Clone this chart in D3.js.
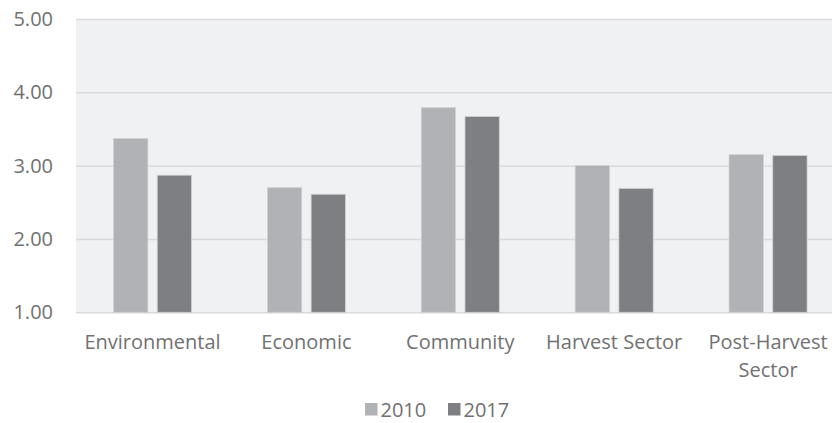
<!DOCTYPE html>
<html><head><meta charset="utf-8">
<script src="https://cdn.jsdelivr.net/npm/d3@7"></script>
<style>body{margin:0;background:#fff;}svg{display:block;font-family:"Open Sans",sans-serif;}</style>
</head><body>
<svg id="c" width="832" height="423"></svg>
<script>
const categories = ["Environmental","Economic","Community","Harvest Sector","Post-Harvest Sector"];
const seriesNames = ["2010","2017"];
const values2010 = [3.37, 2.70, 3.79, 3.00, 3.15];
const values2017 = [2.87, 2.61, 3.67, 2.69, 3.14];
const yTicks = [1, 2, 3, 4, 5];
const colors = ["#b1b2b5", "#7e7f83"];

(function () {
const svg = d3.select("#c");
const textColor = "#717171";
const font = "Open Sans";
const mLeft = 76, plotLeft = 75.6, plotRight = 845, mTop = 19, mBottom = 312.3;

const y = d3.scaleLinear().domain([1, 5]).range([mBottom, mTop]);
const x0 = d3.scaleBand().domain(categories).range([plotLeft, plotRight]).paddingInner(0.432).paddingOuter(0.216);
const x1 = d3.scaleBand().domain(seriesNames).range([0, x0.bandwidth()]).paddingInner(0.215).paddingOuter(0.1075);
const color = d3.scaleOrdinal().domain(seriesNames).range(colors);

svg.append("rect").attr("x", mLeft).attr("y", mTop).attr("width", 832 - mLeft).attr("height", mBottom - mTop).attr("fill", "#f0f1f3");

const yAxis = d3.axisLeft(y).tickValues(yTicks).tickFormat(d3.format(".2f")).tickSize(-(832 - mLeft)).tickPadding(23);
const gy = svg.append("g").attr("transform", `translate(${mLeft},0)`).call(yAxis);
gy.select(".domain").remove();
gy.selectAll(".tick line").attr("stroke", "#d9dadd").attr("stroke-width", 1.5);
gy.selectAll(".tick text").attr("fill", textColor).style("font-size", "20px").style("font-family", font);

const data = categories.map((c, i) => ({cat: c, vals: [{k: "2010", v: values2010[i]}, {k: "2017", v: values2017[i]}]}));

const groups = svg.append("g").selectAll("g").data(data).join("g")
  .attr("transform", d => `translate(${x0(d.cat)},0)`);
groups.selectAll("rect").data(d => d.vals).join("rect")
  .attr("x", d => x1(d.k)).attr("width", x1.bandwidth())
  .attr("y", d => y(d.v)).attr("height", d => y(1) - y(d.v))
  .attr("fill", d => color(d.k))
  .attr("stroke", "#d0d1d4").attr("stroke-width", 0.8);

const xAxis = d3.axisBottom(x0).tickSize(0).tickPadding(23);
const gx = svg.append("g").attr("transform", `translate(0,${mBottom})`).call(xAxis);
gx.select(".domain").remove();
gx.selectAll(".tick text").attr("fill", textColor).style("font-size", "20px").style("font-family", font)
  .each(function(d) {
    const t = d3.select(this);
    const words = d.split(" ");
    const maxW = x0.step() - 6;
    t.text(null);
    let line = [];
    let tspan = t.append("tspan").attr("x", 0).attr("dy", "0.71em");
    for (const w of words) {
      line.push(w);
      tspan.text(line.join(" "));
      if (tspan.node().getComputedTextLength() > maxW && line.length > 1) {
        line.pop();
        tspan.text(line.join(" "));
        line = [w];
        tspan = t.append("tspan").attr("x", 0).attr("dy", "28px").text(w);
      }
    }
  });

const legend = svg.append("g");
const legX = [365, 448];
seriesNames.forEach((s, i) => {
  legend.append("rect").attr("x", legX[i]).attr("y", 403).attr("width", 12.5).attr("height", 12.5).attr("fill", color(s));
  legend.append("text").attr("x", legX[i] + 15.5).attr("y", 416.5).attr("fill", textColor)
    .style("font-size", "20px").style("font-family", font).text(s);
});
})();
</script>
</body></html>
